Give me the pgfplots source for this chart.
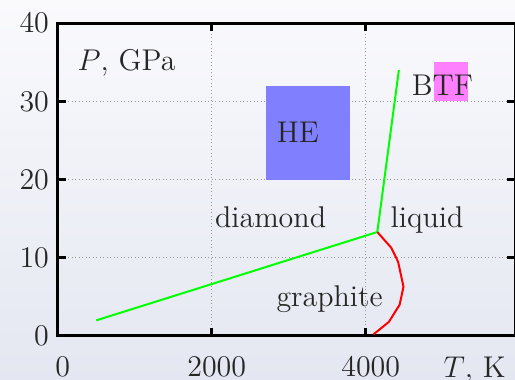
\documentclass[border=0pt]{standalone}
\usepackage{pgfplots}
\pgfplotsset{compat=1.18}
\definecolor{bgtop}{HTML}{FAFAFD}
\definecolor{bgbot}{HTML}{E4E7F1}
\definecolor{hecol}{HTML}{8080FF}
\definecolor{btfcol}{HTML}{FF80FF}
\definecolor{txt}{HTML}{262626}
\newcommand{\TK}{$T$, K}
\begin{document}
\begin{tikzpicture}[font=\fontsize{12}{14}\selectfont]
\shade[top color=bgtop, bottom color=bgbot] (-23.1pt,-17.6pt) rectangle (182.9pt,134.4pt);
\begin{axis}[
  scale only axis,
  width=182.95pt, height=125.1pt,
  xmin=0, xmax=5940, ymin=0, ymax=40,
  xtick={0,2000,4000}, ytick={0,10,20,30,40},
  scaled ticks=false,
  /pgf/number format/1000 sep={},
  tick align=inside,
  major tick length=3.2pt,
  every tick/.style={black, line width=1.2pt},
  axis line style={line width=1.2pt, black},
  grid=major,
  major grid style={densely dotted, gray!80, line width=0.5pt},
  tick label style={text=txt},
  xticklabel style={xshift=2pt, yshift=-5pt},
  extra x ticks={5350},
  extra x tick labels={\TK},
  extra x tick style={grid=none, major tick length=0pt},
]
\addplot[fill=hecol, draw=none] coordinates {(2700,20) (3800,20) (3800,32) (2700,32)} -- cycle;
\addplot[fill=btfcol, draw=none] coordinates {(4880,30) (5330,30) (5330,35) (4880,35)} -- cycle;
\addplot[color=green, line width=0.8pt] coordinates {(500,2.0) (4150,13.3) (4430,34.0)};
\addplot[color=red, line width=0.8pt] coordinates {(4150,13.3) (4330,11.3) (4420,9.5) (4490,6.3) (4440,4.0) (4300,1.8) (4100,0.2)};
\node[anchor=base, text=txt] at (axis cs:893,34.0) {$P$, GPa};
\node[anchor=base, text=txt] at (axis cs:3118,24.8) {HE};
\node[anchor=base, text=txt] at (axis cs:4995,30.8) {BTF};
\node[anchor=base, text=txt] at (axis cs:2764,13.9) {diamond};
\node[anchor=base, text=txt] at (axis cs:4796,13.9) {liquid};
\node[anchor=base, text=txt] at (axis cs:3530,3.74) {graphite};
\end{axis}
\pgfresetboundingbox
\path[use as bounding box] (-23.1pt,-17.6pt) rectangle (182.9pt,134.4pt);
\end{tikzpicture}
\end{document}
